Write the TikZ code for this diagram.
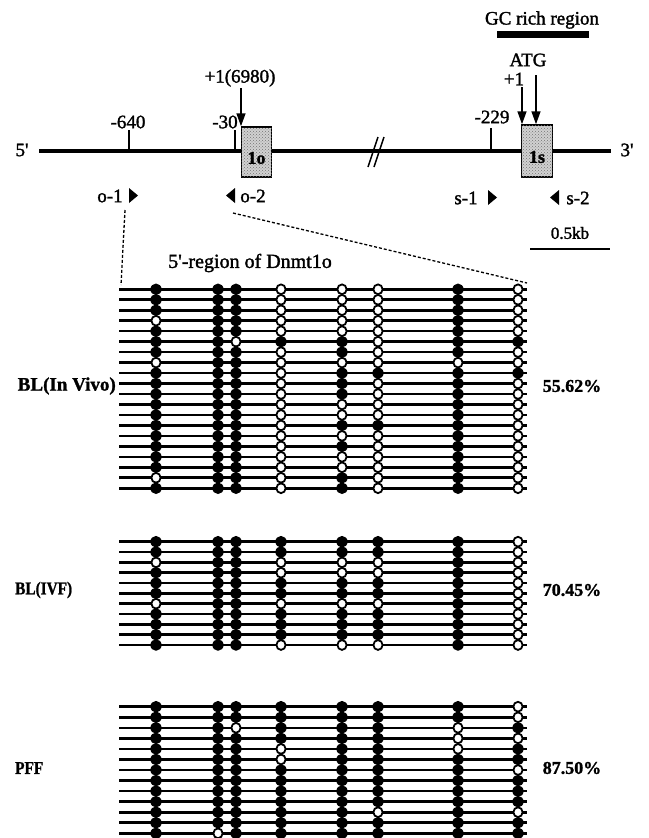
\documentclass[tikz,border=0pt]{standalone}
\usepackage{fontspec}
\setmainfont{Liberation Serif}
\font\hvA="Liberation Serif:embolden=1.6" at 19pt
\font\hvB="Liberation Serif:embolden=1.6" at 17pt
\font\hvC="Liberation Serif:embolden=1.6" at 20pt
\font\hbA="Liberation Serif/B:embolden=1.2" at 19pt
\font\hbB="Liberation Serif/B:embolden=1.2" at 18pt
\usetikzlibrary{arrows.meta,patterns}
\newcommand{\lollipops}[3]{%
  \foreach \r [count=\i] in {#3} {
    \pgfmathsetmacro\yy{#1+(\i-1)*#2}
    \draw[rowln] (119,\yy) -- (527,\yy);
  }
  \foreach \r [count=\i] in {#3} {
    \pgfmathsetmacro\yy{#1+(\i-1)*#2}
    \foreach \v [count=\j] in \r {
      \pgfmathsetmacro\xx{{156,218,236,281,342,378,458,518}[\j-1]}
      \ifnum\v=1
        \fill[meth] (\xx,\yy) ellipse [x radius=5.6pt, y radius=5.8pt];
      \else
        \filldraw[unmeth] (\xx,\yy) ellipse [x radius=4.6pt, y radius=4.9pt];
      \fi
    }
  }
}
\begin{document}
\begin{tikzpicture}[x=1pt,y=-1pt,
  lbl/.style={font=\hvA, inner sep=0pt},
  slbl/.style={font=\hvB, inner sep=0pt},
  blbl/.style={font=\hbB, inner sep=0pt},
  tickln/.style={line width=1.5pt},
  dna/.style={line width=4pt},
  dnaarrow/.style={line width=1.5pt, -{Triangle[length=13pt,width=9pt]}},
  exonbox/.style={draw, line width=1.5pt, fill=black!18, postaction={pattern=crosshatch dots, pattern color=black!55},
    minimum width=30pt, minimum height=50pt, inner sep=0pt},
  primer/.style={fill=black},
  dashconn/.style={line width=1.3pt, dash pattern=on 3pt off 2pt},
  rowln/.style={line width=2.6pt},
  meth/.style={fill=black},
  unmeth/.style={fill=white, draw=black, line width=1.8pt},
  barln/.style={line width=7pt},
  scaleln/.style={line width=2.5pt}
]
\useasboundingbox (0,0) rectangle (648,838);

% ---- GC rich region
\node[lbl] (gc) at (542,20) {GC rich region};
\coordinate (gcA) at (497,34);
\coordinate (gcB) at (589,34);
\draw[barln] (gcA) -- (gcB);

% ---- labels above
\node[lbl] (atg) at (528,60) {ATG};
\node[lbl] (p1s) at (514,79) {+1};
\node[lbl] (p1o) at (240,78) {+1(6980)};
\node[lbl] (m640) at (128,122) {-640};
\node[lbl] (m30) at (225,122) {-30};
\node[lbl] (m229) at (492,117) {-229};

% ---- main line
\node[lbl] (five) at (22,150) {5'};
\node[lbl] (three) at (627,150) {3'};
\coordinate (lineA) at (39,151);
\coordinate (lineB) at (611,151);
\draw[dna] (lineA) -- (lineB);

% ticks
\coordinate (t640a) at (129,130); \coordinate (t640b) at (129,151);
\coordinate (t30a) at (235,130);  \coordinate (t30b) at (235,151);
\coordinate (t229a) at (491,128); \coordinate (t229b) at (491,151);
\draw[tickln] (t640a) -- (t640b);
\draw[tickln] (t30a) -- (t30b);
\draw[tickln] (t229a) -- (t229b);

% break
\coordinate (br1a) at (368,167); \coordinate (br1b) at (378,137);
\coordinate (br2a) at (374,167); \coordinate (br2b) at (384,137);
\draw[line width=1.5pt] (br1a) -- (br1b);
\draw[line width=1.5pt] (br2a) -- (br2b);

% exons
\node[exonbox] (ex1o) at (256.5,152) {};
\node[blbl] (ex1ot) at (256.5,158) {1o};
\node[exonbox, minimum width=31pt, minimum height=52pt] (ex1s) at (537,151) {};
\node[blbl] (ex1st) at (537,157) {1s};

% arrows
\coordinate (a1top) at (241,88);
\draw[dnaarrow] (a1top) -- (ex1o.north -| a1top);
\coordinate (a2top) at (522,87);
\draw[dnaarrow] (a2top) -- (ex1s.north -| a2top);
\coordinate (a3top) at (536,75);
\draw[dnaarrow] (a3top) -- (ex1s.north -| a3top);

% primers
\node[lbl] (o1) at (110,196) {o-1};
\node[lbl] (o2) at (253,196) {o-2};
\node[lbl] (s1) at (466,198) {s-1};
\node[lbl] (s2) at (578,198) {s-2};
\fill[primer] (129,188) -- (129,203) -- (138,195.5) -- cycle;
\fill[primer] (235,188) -- (235,203) -- (226,195.5) -- cycle;
\fill[primer] (488,190) -- (488,205) -- (497,197.5) -- cycle;
\fill[primer] (559,190) -- (559,205) -- (550,197.5) -- cycle;

% scale bar
\node[slbl] (kb) at (570,233) {0.5kb};
\coordinate (kbA) at (530,249);
\coordinate (kbB) at (610,249);
\draw[scaleln] (kbA) -- (kbB);

% zoom-in dashed lines
\coordinate (o1end) at (125,210);
\coordinate (o2end) at (233,213);
\coordinate (g1L) at (121,285);
\coordinate (g1R) at (527,283);
\draw[dashconn] (o1end) -- (g1L);
\draw[dashconn] (o2end) -- (g1R);

\node[lbl, font=\hvC] (region) at (250,263) {5'-region of Dnmt1o};

% ---- group 1: BL(In Vivo)
\lollipops{289.3}{10.47}{
{1,1,1,0,0,0,1,0},{1,1,1,0,0,0,1,0},{1,1,1,0,0,0,1,0},{0,1,1,0,0,0,1,0},
{1,1,1,0,0,0,1,0},{1,1,0,1,1,0,1,1},{1,1,1,0,1,0,1,0},{0,1,1,0,0,0,0,0},
{1,1,1,0,1,1,1,1},{1,1,1,0,1,0,1,0},{1,1,1,0,1,0,1,0},{1,1,1,0,0,0,1,0},
{1,1,1,0,0,0,1,0},{1,1,1,0,1,1,1,0},{1,1,1,0,0,0,1,0},{1,1,1,0,1,0,1,0},
{1,1,1,0,0,0,1,0},{1,1,1,0,0,0,1,0},{0,1,1,0,1,0,1,0},{1,1,1,0,1,0,1,0}}
\node[blbl, font=\hbA, anchor=east] (blvivo) at (116,386) {BL(In Vivo)};
\node[blbl] (pc1) at (572,386) {55.62\%};

% ---- group 2: BL(IVF)
\lollipops{541.7}{10.33}{
{1,1,1,1,1,1,1,0},{1,1,1,1,1,1,1,0},{0,1,1,0,0,0,1,0},{1,1,1,0,0,0,1,0},
{1,1,1,1,1,1,1,0},{1,1,1,1,1,1,1,0},{0,1,1,0,0,0,1,0},{1,1,1,1,1,1,1,0},
{1,1,1,1,1,1,1,0},{1,1,1,1,1,1,1,0},{1,1,1,0,0,0,1,0}}
\node[blbl, anchor=west] (blivf) at (15,590) {\scalebox{0.85}[1]{BL(IVF)}};
\node[blbl] (pc2) at (572,590) {70.45\%};

% ---- group 3: PFF
\lollipops{706.7}{10.55}{
{1,1,1,1,1,1,1,0},{1,1,1,1,1,1,1,0},{1,1,0,1,1,1,0,1},{1,1,1,1,1,1,0,0},
{1,1,1,0,1,1,0,1},{1,1,1,0,1,1,1,1},{1,1,1,1,1,1,1,0},{1,1,1,1,1,1,1,1},
{1,1,1,1,1,1,1,1},{1,1,1,1,1,1,1,1},{1,1,1,1,1,0,1,0},{1,1,1,1,1,1,1,1},
{1,0,1,1,1,1,1,1}}
\node[blbl, anchor=west] (pff) at (15,768) {\scalebox{0.85}[1]{PFF}};
\node[blbl] (pc3) at (572,768) {87.50\%};
\end{tikzpicture}
\end{document}
